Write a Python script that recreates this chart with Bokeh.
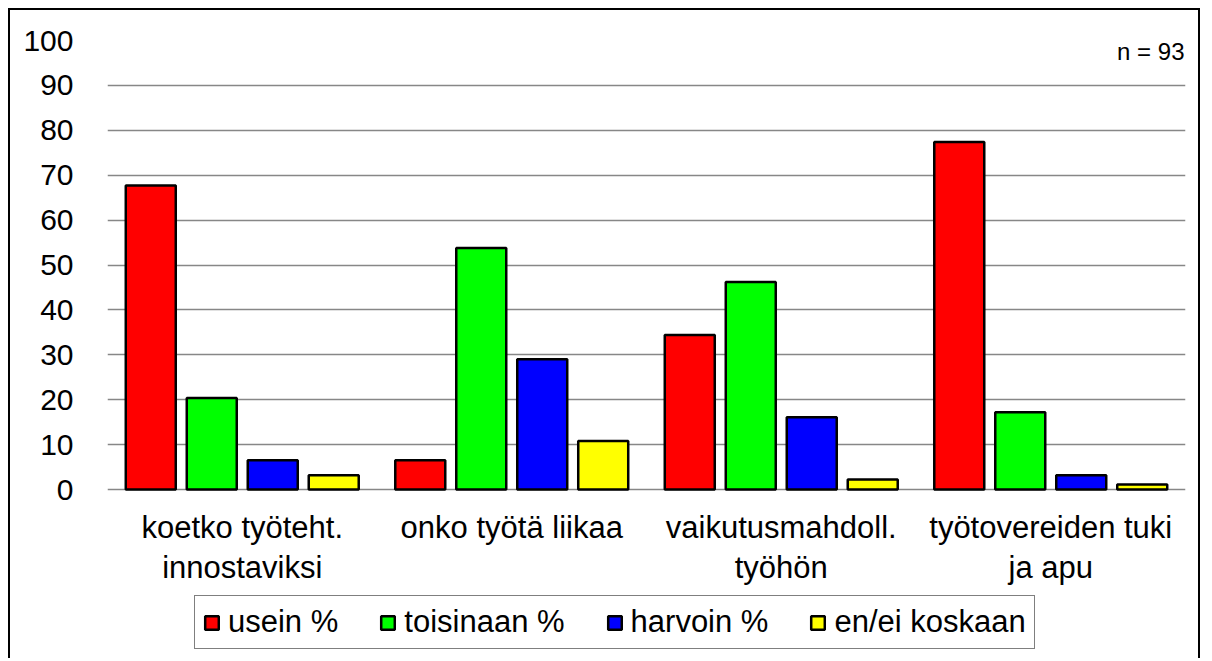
from bokeh.plotting import figure
from bokeh.models import (ColumnDataSource, FactorRange, Range1d, Legend, LegendItem,
                          Label, FixedTicker)
from bokeh.core.properties import value
from bokeh.transform import dodge
from bokeh.embed import file_html
from bokeh.resources import INLINE

categories = ["koetko työteht.\ninnostaviksi", "onko työtä liikaa",
              "vaikutusmahdoll.\ntyöhön", "työtovereiden tuki\nja apu"]
series_names = ["usein %", "toisinaan %", "harvoin %", "en/ei koskaan"]
usein = [67.7, 6.5, 34.4, 77.4]
toisinaan = [20.4, 53.8, 46.2, 17.2]
harvoin = [6.5, 29.0, 16.1, 3.2]
en_ei = [3.2, 10.8, 2.2, 1.1]
colors = ["#ff0000", "#00ff00", "#0000ff", "#ffff00"]
y_ticks = list(range(0, 101, 10))
n_label = "n = 93"

FONT = "Liberation Sans"

source = ColumnDataSource(dict(cat=categories, s0=usein, s1=toisinaan, s2=harvoin, s3=en_ei,
                               zero=[0] * len(categories)))

# frame: 100 at page y=40, 0 at page y=489, frame bottom at page y=660
px_per_unit = (489 - 40) / 100.0
y_start = -(660 - 489) / px_per_unit

p = figure(width=1192, height=650, output_backend="svg", toolbar_location=None,
           x_range=FactorRange(*categories, range_padding=0), y_range=Range1d(y_start, 100),
           x_axis_type=None,
           min_border_left=97, min_border_top=30, min_border_right=17, min_border_bottom=0)
p.styles = {"margin-left": "8px", "margin-top": "8px",
            "border-left": "2px solid black", "border-top": "2px solid black",
            "border-right": "2px solid black"}
p.outline_line_color = None
p.background_fill_color = "white"
p.border_fill_color = "white"

p.xgrid.grid_line_color = None
p.ygrid.grid_line_color = "#878787"
p.ygrid.grid_line_width = 1.5
p.ygrid.ticker = FixedTicker(ticks=y_ticks)

offsets = [-1.5, -0.5, 0.5, 1.5]
step = 0.2263
bar_w = 0.1855
renderers = []
for i, (off, col) in enumerate(zip(offsets, colors)):
    r = p.vbar(x=dodge("cat", off * step, range=p.x_range), top="s%d" % i, bottom=0,
               width=bar_w, source=source, fill_color=col, line_color="black", line_width=2.5)
    renderers.append(r)

p.yaxis.ticker = FixedTicker(ticks=y_ticks)
p.yaxis.axis_line_color = None
p.yaxis.major_tick_line_color = None
p.yaxis.minor_tick_line_color = None
p.yaxis.major_label_text_font = FONT
p.yaxis.major_label_text_font_size = "30px"
p.yaxis.major_label_text_color = "black"
p.yaxis.major_label_standoff = 28

# category labels below the zero line
p.text(x="cat", y="zero", text="cat", source=source, y_offset=20,
       text_font=value(FONT), text_font_size=value("31px"), text_color="black",
       text_align="center", text_baseline="top", text_line_height=1.16)

legend = Legend(items=[LegendItem(label=n, renderers=[r]) for n, r in zip(series_names, renderers)],
                orientation="horizontal", location=(87, 11))
legend.label_text_font = FONT
legend.label_text_font_size = "31px"
legend.label_text_color = "black"
legend.glyph_width = 17
legend.glyph_height = 17
legend.label_standoff = 8
legend.spacing = 41
legend.padding = 8
legend.margin = 0
legend.border_line_color = "black"
legend.border_line_width = 1.5
legend.background_fill_color = "white"
p.add_layout(legend, "center")

p.add_layout(Label(x=1077, y=609, x_units="screen", y_units="screen", text=n_label,
                   text_font=FONT, text_font_size="24px", text_color="black",
                   text_align="right", text_baseline="middle"))

open("out.html", "w").write(file_html(p, INLINE))
